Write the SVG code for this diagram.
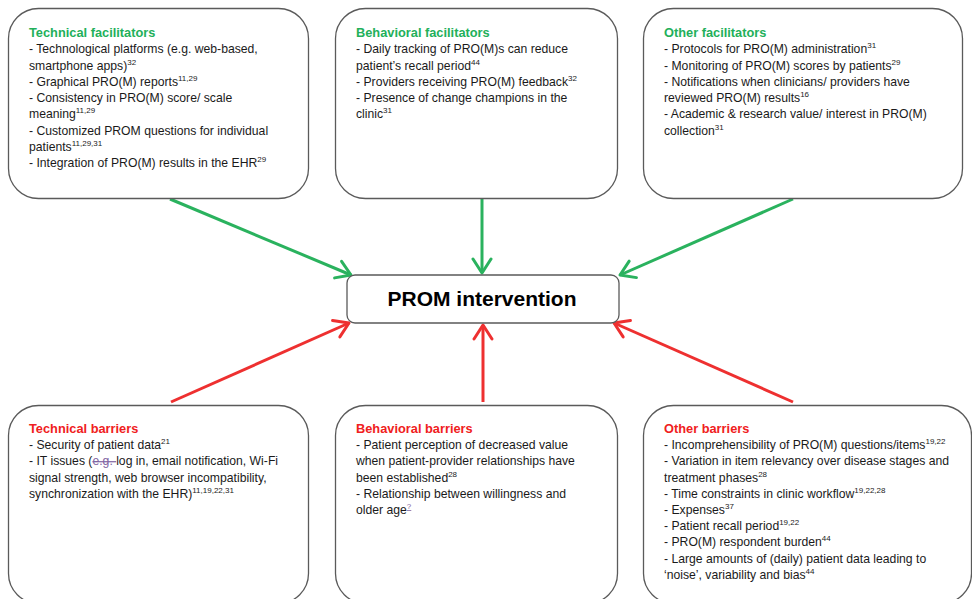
<svg xmlns="http://www.w3.org/2000/svg" width="972" height="599" viewBox="0 0 972 599">
<style>
.box{fill:#ffffff;stroke:#5a5a5a;stroke-width:1.3}
.t{font-family:"Liberation Sans",Arial,sans-serif;font-size:12.2px;fill:#1a1a1a}
.hg{font-family:"Liberation Sans",Arial,sans-serif;font-size:12.8px;font-weight:bold;fill:#22B05A}
.hr{font-family:"Liberation Sans",Arial,sans-serif;font-size:12.8px;font-weight:bold;fill:#F02020}
.s{font-size:8px}
.lk{fill:#8064A2}
.cg{stroke:#2AB25E;stroke-width:3;fill:none}
.cr{stroke:#EE3030;stroke-width:3;fill:none}
</style>
<defs>
<marker id="ag" viewBox="-17 -11 20 22" refX="0" refY="0" markerWidth="20" markerHeight="22" markerUnits="userSpaceOnUse" orient="auto">
<path d="M-14,-9 L0,0 L-14,9" fill="none" stroke="#2AB25E" stroke-width="3" stroke-linecap="round" stroke-linejoin="round"/>
</marker>
<marker id="ar" viewBox="-17 -11 20 22" refX="0" refY="0" markerWidth="20" markerHeight="22" markerUnits="userSpaceOnUse" orient="auto">
<path d="M-14,-9 L0,0 L-14,9" fill="none" stroke="#EE3030" stroke-width="3" stroke-linecap="round" stroke-linejoin="round"/>
</marker>
</defs>
<rect width="972" height="599" fill="#ffffff"/>

<g id="connectors">
<line class="cg" x1="170" y1="199" x2="351" y2="275" marker-end="url(#ag)"/>
<line class="cg" x1="482" y1="199" x2="482" y2="273" marker-end="url(#ag)"/>
<line class="cg" x1="793" y1="199" x2="620" y2="275" marker-end="url(#ag)"/>
<line class="cr" x1="171" y1="402" x2="349" y2="323" marker-end="url(#ar)"/>
<line class="cr" x1="483" y1="402" x2="483" y2="325" marker-end="url(#ar)"/>
<line class="cr" x1="793" y1="402" x2="614" y2="323" marker-end="url(#ar)"/>
</g>

<g id="prom">
<rect class="box" x="347" y="275" width="272" height="48" rx="8"/>
<text x="482" y="306" text-anchor="middle" font-family="'Liberation Sans',Arial,sans-serif" font-size="21" font-weight="bold" fill="#000">PROM intervention</text>
</g>

<g id="technical-facilitators">
<rect class="box" x="8.5" y="8.5" width="300" height="190" rx="30"/>
<text class="hg" x="29" y="37">Technical facilitators</text>
<text class="t" x="29" y="53.3">- Technological platforms (e.g. web-based,</text>
<text class="t" x="29" y="69.5">smartphone apps)<tspan class="s" dy="-5">32</tspan></text>
<text class="t" x="29" y="85.8">- Graphical PRO(M) reports<tspan class="s" dy="-5">11,29</tspan></text>
<text class="t" x="29" y="102">- Consistency in PRO(M) score/ scale</text>
<text class="t" x="29" y="118.3">meaning<tspan class="s" dy="-5">11,29</tspan></text>
<text class="t" x="29" y="134.5">- Customized PROM questions for individual</text>
<text class="t" x="29" y="150.8">patients<tspan class="s" dy="-5">11,29,31</tspan></text>
<text class="t" x="29" y="167">- Integration of PRO(M) results in the EHR<tspan class="s" dy="-5">29</tspan></text>
</g>

<g id="behavioral-facilitators">
<rect class="box" x="335.5" y="8.5" width="282" height="190" rx="30"/>
<text class="hg" x="356" y="37">Behavioral facilitators</text>
<text class="t" x="356" y="53.3">- Daily tracking of PRO(M)s can reduce</text>
<text class="t" x="356" y="69.5">patient’s recall period<tspan class="s" dy="-5">44</tspan></text>
<text class="t" x="356" y="85.8">- Providers receiving PRO(M) feedback<tspan class="s" dy="-5">32</tspan></text>
<text class="t" x="356" y="102">- Presence of change champions in the</text>
<text class="t" x="356" y="118.3">clinic<tspan class="s" dy="-5">31</tspan></text>
</g>

<g id="other-facilitators">
<rect class="box" x="643.5" y="8.5" width="319" height="190" rx="30"/>
<text class="hg" x="664" y="37">Other facilitators</text>
<text class="t" x="664" y="53.3">- Protocols for PRO(M) administration<tspan class="s" dy="-5">31</tspan></text>
<text class="t" x="664" y="69.5">- Monitoring of PRO(M) scores by patients<tspan class="s" dy="-5">29</tspan></text>
<text class="t" x="664" y="85.8">- Notifications when clinicians/ providers have</text>
<text class="t" x="664" y="102">reviewed PRO(M) results<tspan class="s" dy="-5">16</tspan></text>
<text class="t" x="664" y="118.3">- Academic &amp; research value/ interest in PRO(M)</text>
<text class="t" x="664" y="134.5">collection<tspan class="s" dy="-5">31</tspan></text>
</g>

<g id="technical-barriers">
<rect class="box" x="8.5" y="405.5" width="300" height="198" rx="30"/>
<text class="hr" x="29" y="433">Technical barriers</text>
<text class="t" x="29" y="449.2">- Security of patient data<tspan class="s" dy="-5">21</tspan></text>
<text class="t" x="29" y="465.4">- IT issues (<tspan class="lk" text-decoration="line-through">e.g. </tspan>log in, email notification, Wi-Fi</text>
<text class="t" x="29" y="481.6">signal strength, web browser incompatibility,</text>
<text class="t" x="29" y="497.8">synchronization with the EHR)<tspan class="s" dy="-5">11,19,22,31</tspan></text>
</g>

<g id="behavioral-barriers">
<rect class="box" x="335.5" y="405.5" width="282" height="198" rx="30"/>
<text class="hr" x="356" y="433">Behavioral barriers</text>
<text class="t" x="356" y="449.2">- Patient perception of decreased value</text>
<text class="t" x="356" y="465.4">when patient-provider relationships have</text>
<text class="t" x="356" y="481.6">been established<tspan class="s" dy="-5">28</tspan></text>
<text class="t" x="356" y="497.8">- Relationship between willingness and</text>
<text class="t" x="356" y="514">older age<tspan class="s lk" dy="-5" text-decoration="underline">?</tspan></text>
</g>

<g id="other-barriers">
<rect class="box" x="643.5" y="405.5" width="328" height="198" rx="30"/>
<text class="hr" x="664" y="433">Other barriers</text>
<text class="t" x="664" y="449.2">- Incomprehensibility of PRO(M) questions/items<tspan class="s" dy="-5">19,22</tspan></text>
<text class="t" x="664" y="465.4">- Variation in item relevancy over disease stages and</text>
<text class="t" x="664" y="481.6">treatment phases<tspan class="s" dy="-5">28</tspan></text>
<text class="t" x="664" y="497.8">- Time constraints in clinic workflow<tspan class="s" dy="-5">19,22,28</tspan></text>
<text class="t" x="664" y="514">- Expenses<tspan class="s" dy="-5">37</tspan></text>
<text class="t" x="664" y="530.2">- Patient recall period<tspan class="s" dy="-5">19,22</tspan></text>
<text class="t" x="664" y="546.4">- PRO(M) respondent burden<tspan class="s" dy="-5">44</tspan></text>
<text class="t" x="664" y="562.6">- Large amounts of (daily) patient data leading to</text>
<text class="t" x="664" y="578.8">‘noise’, variability and bias<tspan class="s" dy="-5">44</tspan></text>
</g>
</svg>
